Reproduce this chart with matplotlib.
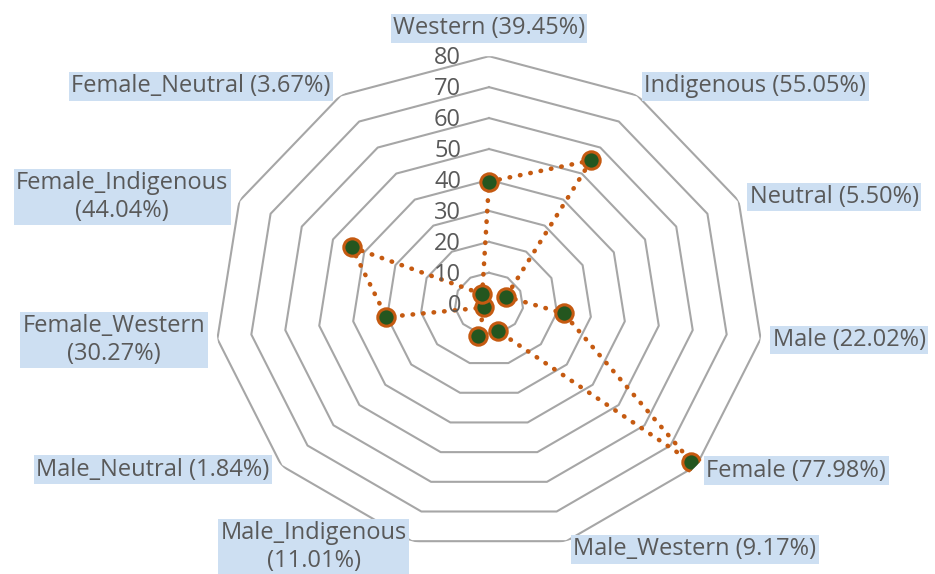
import numpy as np
import matplotlib.pyplot as plt

categories = ['Western (39.45%)', 'Indigenous (55.05%)', 'Neutral (5.50%)',
              'Male (22.02%)', 'Female (77.98%)', 'Male_Western (9.17%)',
              'Male_Indigenous\n(11.01%)', 'Male_Neutral (1.84%)',
              'Female_Western\n(30.27%)', 'Female_Indigenous\n(44.04%)',
              'Female_Neutral (3.67%)']
values = [39.45, 55.05, 5.50, 22.02, 77.98, 9.17, 11.01, 1.84, 30.27, 44.04, 3.67]
rings = [0, 10, 20, 30, 40, 50, 60, 70, 80]

# label placement (pixels from the outer vertex), just layout
label_ha = ['center'] + ['left'] * 5 + ['right'] * 5
label_off = [(0, 28), (7, 9), (11, 4), (12, -1), (10, -5), (7, -8),
             (-5, -6), (-12, -4), (-12, -1), (-11, 4), (-10, 9)]

plt.rcParams['font.family'] = ['Open Sans', 'DejaVu Sans']
txt_color = '#595959'
grid_color = '#a6a6a6'
line_color = '#c55a11'
fs = 17

fig = plt.figure(figsize=(9.35, 5.74), dpi=100)
ax = fig.add_axes([0.2295, 0.0397, 0.5870, 0.8624], projection='polar')
ax.set_aspect('auto')
ax.set_theta_zero_location('N')
ax.set_theta_direction(-1)

n = len(values)
theta = np.linspace(0, 2 * np.pi, n, endpoint=False)
theta_c = np.r_[theta, theta[0]]

# polygon grid
for r in rings[1:]:
    ax.plot(theta_c, [r] * (n + 1), color=grid_color, lw=1.5, zorder=1)

vals_c = np.r_[values, values[0]]
ax.plot(theta_c, vals_c, color=line_color, lw=3.3, linestyle=(0, (0.1, 2.2)),
        dash_capstyle='round', zorder=2)
ax.plot(theta, values, 'o', ms=12.5, mfc='#24561f', mec=line_color, mew=2.2,
        zorder=3, linestyle='none')

ax.set_ylim(0, 80)
ax.set_xticks([])
ax.set_yticks([])
ax.grid(False)
ax.spines['polar'].set_visible(False)

for r in rings:
    ax.annotate(str(r), xy=(0, r), xytext=(-28, -2), textcoords='offset pixels',
                ha='right', va='center', fontsize=17, color=txt_color)

for th, lab, ha, off in zip(theta, categories, label_ha, label_off):
    ax.annotate(lab, xy=(th, 80), xytext=off, textcoords='offset pixels',
                ha=ha, va='center', multialignment='center', fontsize=fs,
                color=txt_color, annotation_clip=False, linespacing=1.2,
                bbox=dict(boxstyle='square,pad=0.1', fc='#cddff2', ec='none'))

fig.savefig('out.png', dpi=100)
